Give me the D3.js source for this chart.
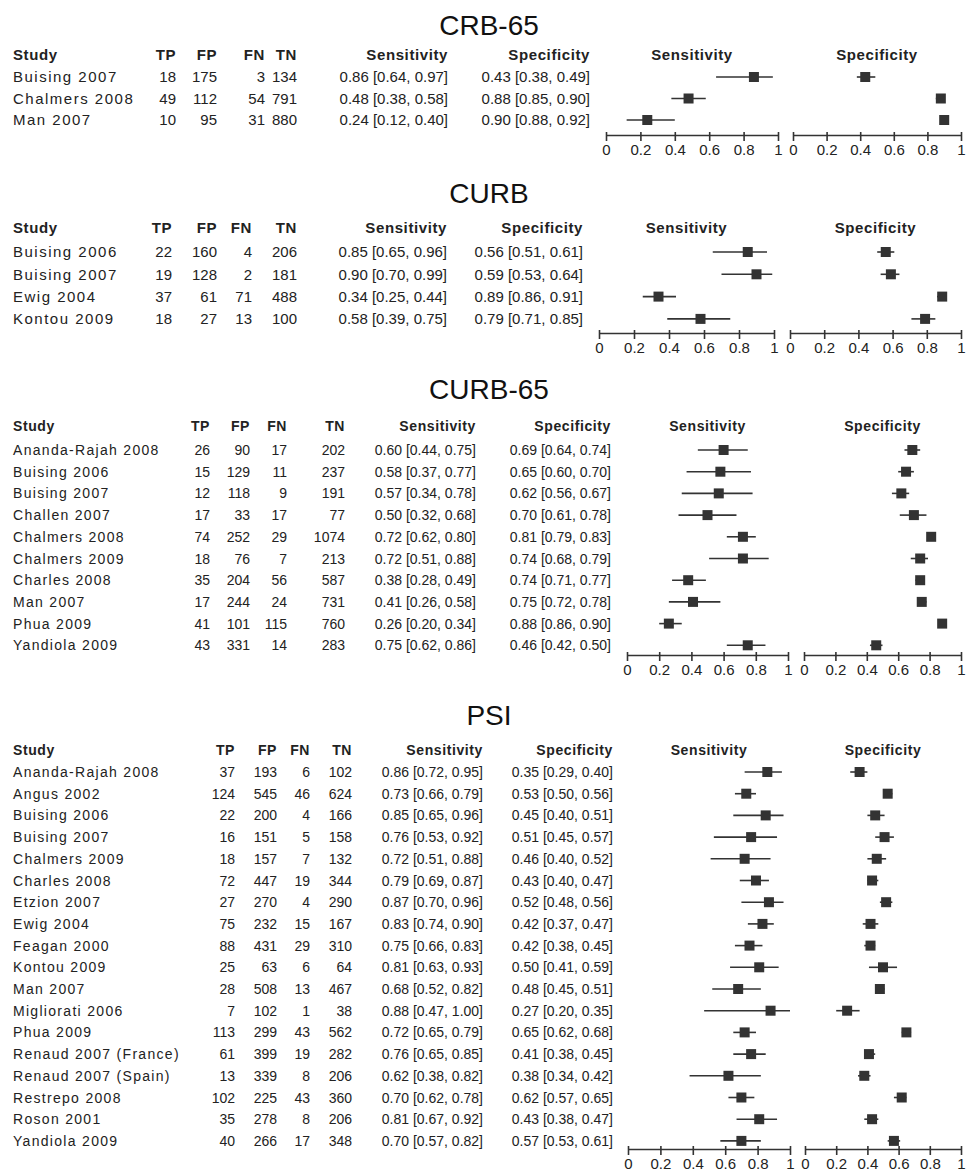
<!DOCTYPE html>
<html>
<head>
<meta charset="utf-8">
<script src="https://cdn.jsdelivr.net/npm/d3@7"></script>
<style>
  body { margin: 0; background: #fff; }
  svg text { font-family: "Liberation Sans", Arial, sans-serif; fill: #222; }
</style>
</head>
<body>
<div id="chart"></div>
<script>
// ---- data ----
// counts are [TP, FP, FN, TN]; sens / spec are [estimate, lower, upper]
const crb65Studies = ['Buising 2007', 'Chalmers 2008', 'Man 2007'];
const crb65Counts = [[18, 175, 3, 134], [49, 112, 54, 791], [10, 95, 31, 880]];
const crb65Sens = [[0.86, 0.64, 0.97], [0.48, 0.38, 0.58], [0.24, 0.12, 0.40]];
const crb65Spec = [[0.43, 0.38, 0.49], [0.88, 0.85, 0.90], [0.90, 0.88, 0.92]];

const curbStudies = ['Buising 2006', 'Buising 2007', 'Ewig 2004', 'Kontou 2009'];
const curbCounts = [[22, 160, 4, 206], [19, 128, 2, 181], [37, 61, 71, 488], [18, 27, 13, 100]];
const curbSens = [[0.85, 0.65, 0.96], [0.90, 0.70, 0.99], [0.34, 0.25, 0.44], [0.58, 0.39, 0.75]];
const curbSpec = [[0.56, 0.51, 0.61], [0.59, 0.53, 0.64], [0.89, 0.86, 0.91], [0.79, 0.71, 0.85]];

const curb65Studies = ['Ananda-Rajah 2008', 'Buising 2006', 'Buising 2007', 'Challen 2007', 'Chalmers 2008',
  'Chalmers 2009', 'Charles 2008', 'Man 2007', 'Phua 2009', 'Yandiola 2009'];
const curb65Counts = [[26, 90, 17, 202], [15, 129, 11, 237], [12, 118, 9, 191], [17, 33, 17, 77], [74, 252, 29, 1074],
  [18, 76, 7, 213], [35, 204, 56, 587], [17, 244, 24, 731], [41, 101, 115, 760], [43, 331, 14, 283]];
const curb65Sens = [[0.60, 0.44, 0.75], [0.58, 0.37, 0.77], [0.57, 0.34, 0.78], [0.50, 0.32, 0.68], [0.72, 0.62, 0.80],
  [0.72, 0.51, 0.88], [0.38, 0.28, 0.49], [0.41, 0.26, 0.58], [0.26, 0.20, 0.34], [0.75, 0.62, 0.86]];
const curb65Spec = [[0.69, 0.64, 0.74], [0.65, 0.60, 0.70], [0.62, 0.56, 0.67], [0.70, 0.61, 0.78], [0.81, 0.79, 0.83],
  [0.74, 0.68, 0.79], [0.74, 0.71, 0.77], [0.75, 0.72, 0.78], [0.88, 0.86, 0.90], [0.46, 0.42, 0.50]];

const psiStudies = ['Ananda-Rajah 2008', 'Angus 2002', 'Buising 2006', 'Buising 2007', 'Chalmers 2009', 'Charles 2008',
  'Etzion 2007', 'Ewig 2004', 'Feagan 2000', 'Kontou 2009', 'Man 2007', 'Migliorati 2006', 'Phua 2009',
  'Renaud 2007 (France)', 'Renaud 2007 (Spain)', 'Restrepo 2008', 'Roson 2001', 'Yandiola 2009'];
const psiCounts = [[37, 193, 6, 102], [124, 545, 46, 624], [22, 200, 4, 166], [16, 151, 5, 158], [18, 157, 7, 132],
  [72, 447, 19, 344], [27, 270, 4, 290], [75, 232, 15, 167], [88, 431, 29, 310], [25, 63, 6, 64], [28, 508, 13, 467],
  [7, 102, 1, 38], [113, 299, 43, 562], [61, 399, 19, 282], [13, 339, 8, 206], [102, 225, 43, 360], [35, 278, 8, 206],
  [40, 266, 17, 348]];
const psiSens = [[0.86, 0.72, 0.95], [0.73, 0.66, 0.79], [0.85, 0.65, 0.96], [0.76, 0.53, 0.92], [0.72, 0.51, 0.88],
  [0.79, 0.69, 0.87], [0.87, 0.70, 0.96], [0.83, 0.74, 0.90], [0.75, 0.66, 0.83], [0.81, 0.63, 0.93], [0.68, 0.52, 0.82],
  [0.88, 0.47, 1.00], [0.72, 0.65, 0.79], [0.76, 0.65, 0.85], [0.62, 0.38, 0.82], [0.70, 0.62, 0.78], [0.81, 0.67, 0.92],
  [0.70, 0.57, 0.82]];
const psiSpec = [[0.35, 0.29, 0.40], [0.53, 0.50, 0.56], [0.45, 0.40, 0.51], [0.51, 0.45, 0.57], [0.46, 0.40, 0.52],
  [0.43, 0.40, 0.47], [0.52, 0.48, 0.56], [0.42, 0.37, 0.47], [0.42, 0.38, 0.45], [0.50, 0.41, 0.59], [0.48, 0.45, 0.51],
  [0.27, 0.20, 0.35], [0.65, 0.62, 0.68], [0.41, 0.38, 0.45], [0.38, 0.34, 0.42], [0.62, 0.57, 0.65], [0.43, 0.38, 0.47],
  [0.57, 0.53, 0.61]];

const countHeaders = ['TP', 'FP', 'FN', 'TN'];
const tickValues = [0, 0.2, 0.4, 0.6, 0.8, 1];

// ---- layout of each block (the four panels were scaled a little differently) ----
const panels = [
  { title: 'CRB-65', studies: crb65Studies, counts: crb65Counts, sens: crb65Sens, spec: crb65Spec,
    font: 15, nameSpacing: 1.5, titleY: 35, headerY: 55, firstRow: 77, rowStep: 21.5, axisY: 135,
    countX: [176, 217, 265, 297], sensX: 448, specX: 590, sensRange: [606, 778], specRange: [793, 961] },
  { title: 'CURB', studies: curbStudies, counts: curbCounts, sens: curbSens, spec: curbSpec,
    font: 15, nameSpacing: 1.5, titleY: 203, headerY: 228, firstRow: 252, rowStep: 22.3, axisY: 333,
    countX: [172, 217, 252, 297], sensX: 447, specX: 583, sensRange: [599, 774], specRange: [790, 961] },
  { title: 'CURB-65', studies: curb65Studies, counts: curb65Counts, sens: curb65Sens, spec: curb65Spec,
    font: 14, nameSpacing: 1.3, titleY: 399, headerY: 426, firstRow: 450, rowStep: 21.7, axisY: 655,
    countX: [210, 250, 287, 345], sensX: 476, specX: 611, sensRange: [627, 788], specRange: [804, 961] },
  { title: 'PSI', studies: psiStudies, counts: psiCounts, sens: psiSens, spec: psiSpec,
    font: 14, nameSpacing: 1.3, titleY: 725, headerY: 750, firstRow: 772, rowStep: 21.7, axisY: 1149,
    countX: [235, 277, 310, 352], sensX: 483, specX: 613, sensRange: [628, 790], specRange: [805, 961] }
];

const width = 966, height = 1171;
const ink = '#333';
const f2 = d3.format('.2f');
const ciText = d => `${f2(d[0])} [${f2(d[1])}, ${f2(d[2])}]`;

const svg = d3.select('#chart').append('svg')
  .attr('width', width)
  .attr('height', height);

panels.forEach(p => {
  const g = svg.append('g').style('font-size', p.font + 'px');
  const n = p.studies.length;

  const y = d3.scalePoint()
    .domain(p.studies)
    .range([p.firstRow, p.firstRow + p.rowStep * (n - 1)]);

  // title
  g.append('text')
    .attr('x', 489)
    .attr('y', p.titleY)
    .attr('text-anchor', 'middle')
    .style('font-size', '28px')
    .style('fill', '#111')
    .text(p.title);

  // header row
  const hdr = g.append('g')
    .style('font-weight', 'bold')
    .style('letter-spacing', '0.6px')
    .style('fill', '#111');
  hdr.append('text').attr('x', 13).attr('y', p.headerY).attr('dy', '0.36em').text('Study');
  countHeaders.forEach((h, i) => {
    hdr.append('text').attr('x', p.countX[i]).attr('y', p.headerY).attr('dy', '0.36em')
      .attr('text-anchor', 'end').text(h);
  });
  hdr.append('text').attr('x', p.sensX).attr('y', p.headerY).attr('dy', '0.36em')
    .attr('text-anchor', 'end').text('Sensitivity');
  hdr.append('text').attr('x', p.specX).attr('y', p.headerY).attr('dy', '0.36em')
    .attr('text-anchor', 'end').text('Specificity');
  hdr.append('text').attr('x', d3.mean(p.sensRange)).attr('y', p.headerY).attr('dy', '0.36em')
    .attr('text-anchor', 'middle').text('Sensitivity');
  hdr.append('text').attr('x', d3.mean(p.specRange)).attr('y', p.headerY).attr('dy', '0.36em')
    .attr('text-anchor', 'middle').text('Specificity');

  // table rows
  const rows = g.selectAll('g.row')
    .data(p.studies.map((s, i) => ({ study: s, counts: p.counts[i], sens: p.sens[i], spec: p.spec[i] })))
    .enter()
    .append('g')
    .attr('class', 'row')
    .attr('transform', d => `translate(0,${y(d.study)})`);

  rows.append('text')
    .attr('x', 13)
    .attr('dy', '0.36em')
    .style('letter-spacing', p.nameSpacing + 'px')
    .text(d => d.study);

  countHeaders.forEach((h, i) => {
    rows.append('text')
      .attr('x', p.countX[i])
      .attr('dy', '0.36em')
      .attr('text-anchor', 'end')
      .text(d => d.counts[i]);
  });

  rows.append('text').attr('x', p.sensX).attr('dy', '0.36em').attr('text-anchor', 'end')
    .text(d => ciText(d.sens));
  rows.append('text').attr('x', p.specX).attr('dy', '0.36em').attr('text-anchor', 'end')
    .text(d => ciText(d.spec));

  // the two forest plots
  [['sens', p.sensRange], ['spec', p.specRange]].forEach(([key, range]) => {
    const x = d3.scaleLinear().domain([0, 1]).range(range);

    const ax = g.append('g')
      .attr('transform', `translate(0,${p.axisY})`)
      .call(d3.axisBottom(x).tickValues(tickValues).tickSizeOuter(0).tickFormat(d3.format('~g')));
    ax.attr('font-family', null).attr('font-size', null);
    ax.select('.domain').attr('stroke', ink).attr('stroke-width', 1.6);
    ax.selectAll('.tick line').attr('stroke', ink).attr('stroke-width', 1.6).attr('y1', -3).attr('y2', 6);
    ax.selectAll('.tick text').attr('y', 9).style('fill', '#222').style('font-size', '15px');

    const marks = g.append('g');
    marks.selectAll('line.ci')
      .data(p[key].map((v, i) => ({ study: p.studies[i], v })))
      .enter()
      .append('line')
      .attr('class', 'ci')
      .attr('x1', d => x(d.v[1]))
      .attr('x2', d => x(d.v[2]))
      .attr('y1', d => y(d.study))
      .attr('y2', d => y(d.study))
      .attr('stroke', ink)
      .attr('stroke-width', 1.6);

    const s = 10;
    marks.selectAll('rect.est')
      .data(p[key].map((v, i) => ({ study: p.studies[i], v })))
      .enter()
      .append('rect')
      .attr('class', 'est')
      .attr('x', d => x(d.v[0]) - s / 2)
      .attr('y', d => y(d.study) - s / 2)
      .attr('width', s)
      .attr('height', s)
      .attr('fill', ink);
  });
});
</script>
</body>
</html>
